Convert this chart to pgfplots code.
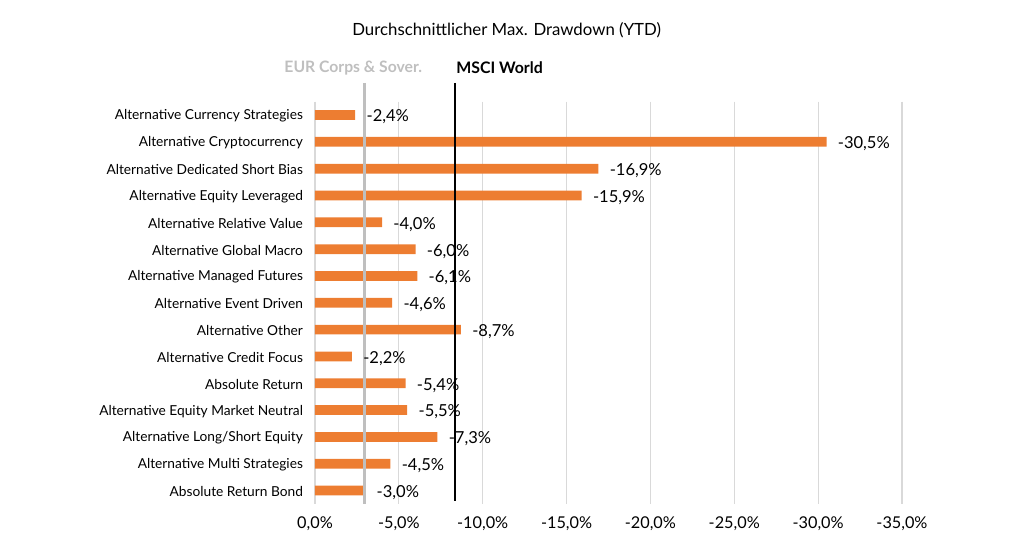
\documentclass[border=0pt]{standalone}
\usepackage{fontspec}
\setmainfont{Lato}
\usepackage{pgfplots}
\pgfplotsset{compat=1.18}
\definecolor{barorange}{HTML}{ED7D31}
\definecolor{gridgray}{HTML}{D9D9D9}
\definecolor{refgray}{HTML}{BFBFBF}
\begin{document}
\begin{tikzpicture}
\path[use as bounding box] (0,0) rectangle (761.25pt,404.25pt);
\node[font=\fontsize{12.6}{14}\selectfont] at (380pt,381.5pt) {Durchschnittlicher Max. Drawdown (YTD)};
\begin{axis}[
  at={(236.25pt,26.25pt)}, anchor=south west,
  scale only axis, width=440.25pt, height=301.8pt,
  xbar, bar width=7.3pt,
  x dir=reverse, y dir=reverse,
  xmin=-35, xmax=0, ymin=-0.5, ymax=14.5,
  xtick={0,-5,-10,-15,-20,-25,-30,-35},
  xmajorgrids, grid style={gridgray, line width=0.8pt},
  axis line style={draw=none},
  major tick length=0pt,
  ytick={0,...,14},
  yticklabels={Alternative Currency Strategies,Alternative Cryptocurrency,Alternative Dedicated Short Bias,Alternative Equity Leveraged,Alternative Relative Value,Alternative Global Macro,Alternative Managed Futures,Alternative Event Driven,Alternative Other,Alternative Credit Focus,Absolute Return,Alternative Equity Market Neutral,Alternative Long/Short Equity,Alternative Multi Strategies,Absolute Return Bond},
  yticklabel style={font=\fontsize{10.3}{12}\selectfont, xshift=-5.5pt, yshift=-0.8pt},
  xticklabel style={font=\fontsize{12.2}{14}\selectfont, yshift=-6pt},
  /pgf/number format/assume math mode=true,
  xticklabel={\pgfmathprintnumber[fixed,fixed zerofill,precision=1,use comma]{\tick}\%},
  nodes near coords={\pgfmathprintnumber[fixed,fixed zerofill,precision=1,use comma]{\pgfplotspointmeta}\%},
  every node near coord/.append style={anchor=west, font=\fontsize{12.4}{14}\selectfont, xshift=5pt, yshift=-1.5pt, black},
  clip=false,
]
\addplot[fill=barorange, draw=none] coordinates {
(-2.4,0) (-30.5,1) (-16.9,2) (-15.9,3) (-4.0,4) (-6.0,5) (-6.1,6) (-4.6,7) (-8.7,8) (-2.2,9) (-5.4,10) (-5.5,11) (-7.3,12) (-4.5,13) (-3.0,14)
};
\draw[refgray, line width=1.8pt] (axis cs:-2.95,-1.2) -- (axis cs:-2.95,14.5);
\draw[black, line width=1.8pt] (axis cs:-8.35,-1.2) -- (axis cs:-8.35,14.4);
\node[refgray, font=\bfseries\fontsize{11.8}{13}\selectfont] at (axis cs:-2.28,-1.75) {EUR Corps \& Sover.};
\node[black, font=\bfseries\fontsize{11.9}{13}\selectfont, anchor=west] at (axis cs:-8.15,-1.75) {MSCI World};
\end{axis}
\end{tikzpicture}
\end{document}
